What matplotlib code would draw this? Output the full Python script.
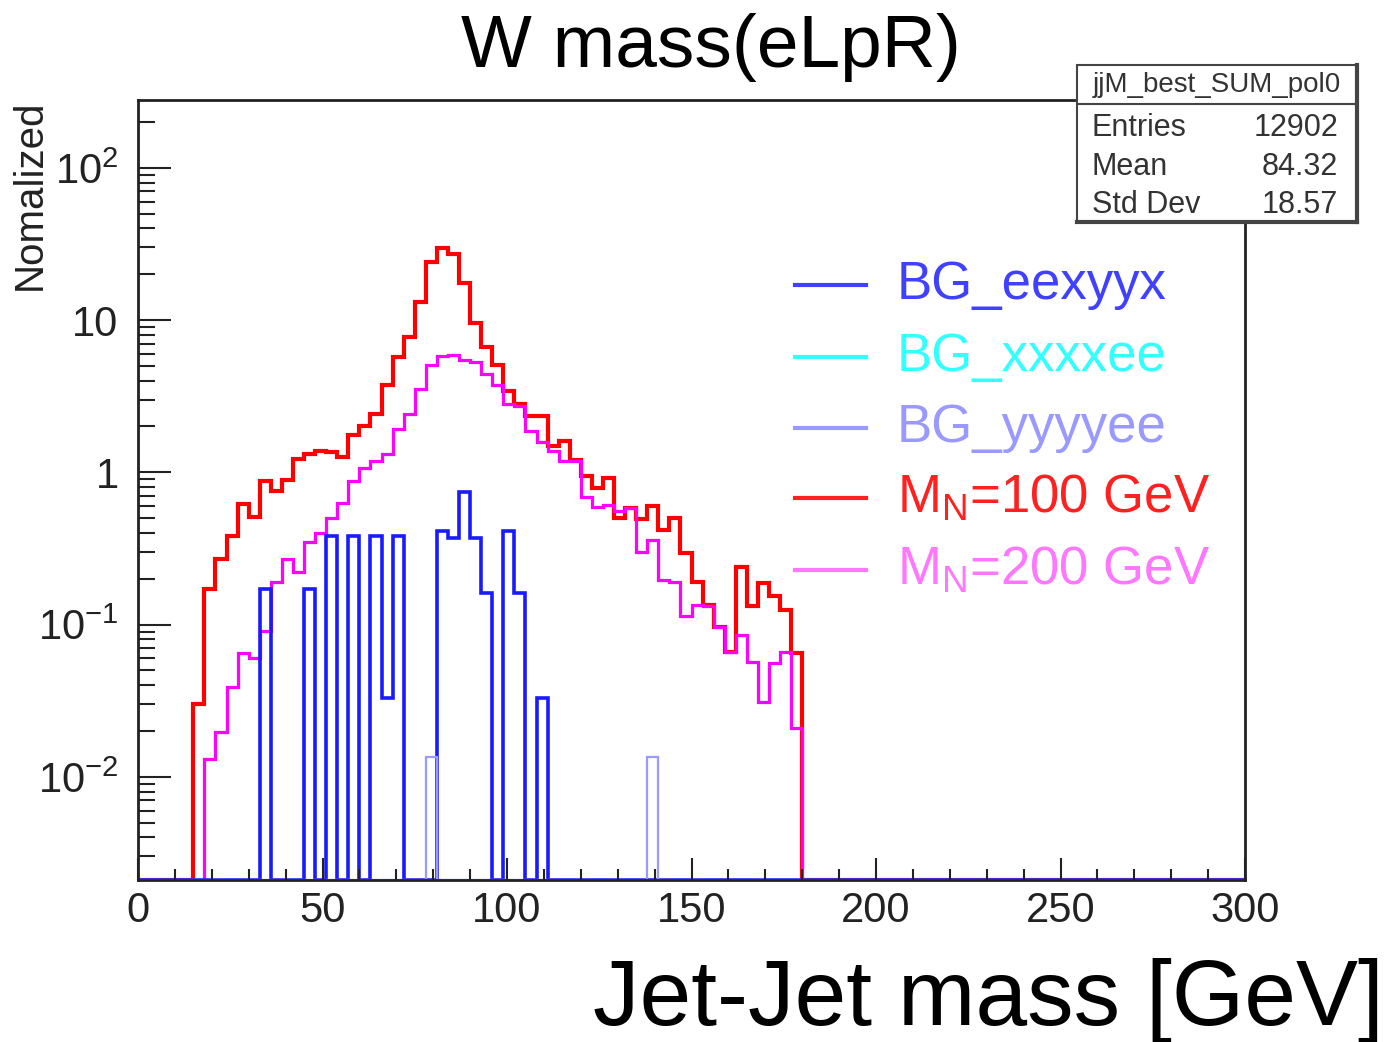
import numpy as np
import matplotlib.pyplot as plt
from matplotlib.lines import Line2D
from matplotlib.patches import Rectangle
from matplotlib.ticker import LogLocator, NullFormatter, MultipleLocator

plt.rcParams['font.family'] = ['Liberation Sans', 'DejaVu Sans']
plt.rcParams['mathtext.fontset'] = 'custom'
plt.rcParams['mathtext.rm'] = 'Liberation Sans'
plt.rcParams['mathtext.it'] = 'Liberation Sans:italic'

# 100 bins of 3 GeV from 0 to 300
bin_edges = np.arange(0, 301, 3)

# M_N = 100 GeV, first filled bin starts at 15 GeV
mn100_start = 15
mn100_vals = [0.030, 0.17, 0.27, 0.38, 0.62, 0.51, 0.88, 0.75, 0.89, 1.23,
              1.31, 1.39, 1.35, 1.27, 1.77, 2.02, 2.43, 3.76, 5.7, 7.8,
              13.1, 24.0, 29.7, 27.3, 17.4, 9.6, 6.7, 5.1, 3.4, 2.82,
              2.33, 2.33, 1.49, 1.61, 1.2, 0.95, 0.79, 0.92, 0.50, 0.58,
              0.49, 0.60, 0.42, 0.50, 0.295, 0.19, 0.135, 0.097, 0.066, 0.24,
              0.132, 0.187, 0.153, 0.125, 0.065]

# M_N = 200 GeV, first filled bin starts at 18 GeV
mn200_start = 18
mn200_vals = [0.013, 0.0198, 0.039, 0.065, 0.06, 0.091, 0.19, 0.27, 0.22, 0.35,
              0.40, 0.50, 0.63, 0.88, 1.07, 1.19, 1.31, 1.92, 2.4, 3.5,
              5.1, 5.8, 5.9, 5.5, 5.3, 4.4, 3.76, 2.82, 2.73, 1.86,
              1.58, 1.39, 1.19, 1.19, 0.69, 0.59, 0.61, 0.56, 0.58, 0.30,
              0.36, 0.197, 0.19, 0.113, 0.135, 0.132, 0.097, 0.066, 0.086, 0.057,
              0.031, 0.056, 0.066, 0.021]

# BG_eexyyx, first bin at 33 GeV
eexyyx_start = 33
eexyyx_vals = [0.17, 0, 0, 0, 0.17, 0, 0.38, 0, 0.38, 0,
               0.38, 0.033, 0.38, 0, 0, 0, 0.41, 0.37, 0.74, 0.37,
               0.16, 0, 0.41, 0.16, 0, 0.033]

# BG_yyyyee: two isolated bins
yyyyee_bins = [78, 138]
yyyyee_vals = [0.0135, 0.0135]

# BG_xxxxee: empty in this range
xxxxee_bins = []
xxxxee_vals = []

ymin, ymax = 0.0021, 279


def full_hist(starts, vals):
    h = np.zeros(len(bin_edges) - 1)
    for s, v in zip(starts, vals):
        h[int(s // 3)] = v
    return h


def from_start(start, vals):
    return full_hist([start + 3 * i for i in range(len(vals))], vals)


hists = [
    ('M$_{\\mathregular{N}}$=100 GeV', from_start(mn100_start, mn100_vals), '#ff0000', 3.0),
    ('M$_{\\mathregular{N}}$=200 GeV', from_start(mn200_start, mn200_vals), '#ff00ff', 2.3),
    ('BG_eexyyx', from_start(eexyyx_start, eexyyx_vals), '#1a1aff', 2.6),
    ('BG_xxxxee', full_hist(xxxxee_bins, xxxxee_vals), '#00ffff', 1.5),
    ('BG_yyyyee', full_hist(yyyyee_bins, yyyyee_vals), '#9999ff', 1.6),
]

W, H = 1396, 1042
fig = plt.figure(figsize=(W / 100, H / 100), dpi=100)
ax = fig.add_axes([138 / W, 1 - 880 / H, (1245 - 138) / W, (880 - 100) / H])

for name, h, col, lw in hists:
    ax.stairs(np.maximum(h, ymin), bin_edges, baseline=ymin, color=col, lw=lw)

ax.set_yscale('log')
ax.set_xlim(0, 300)
ax.set_ylim(ymin, ymax)

ax.set_xticks(np.arange(0, 301, 50))
ax.xaxis.set_minor_locator(MultipleLocator(10))
ax.set_yticks([0.01, 0.1, 1, 10, 100])
ax.set_yticklabels(['$10^{-2}$', '$10^{-1}$', '1', '10', '$10^{2}$'])
ax.yaxis.set_minor_locator(LogLocator(base=10, subs=np.arange(2, 10)))
ax.yaxis.set_minor_formatter(NullFormatter())

ax.tick_params(axis='both', which='both', direction='in', colors='#222222',
               labelcolor='#222222', width=1.5)
ax.tick_params(axis='x', which='major', length=16, pad=8, labelsize=30)
ax.tick_params(axis='x', which='minor', length=8)
ax.tick_params(axis='y', which='major', length=24, pad=14, labelsize=30)
ax.tick_params(axis='y', which='minor', length=12)
for sp in ax.spines.values():
    sp.set_linewidth(2)
    sp.set_color('#222222')

# titles
fig.text(711 / W, 1 - 47 / H, 'W mass(eLpR)', fontsize=54, ha='center', va='center')
fig.text(1384 / W, 1 - 1025 / H, 'Jet-Jet mass [GeV]', fontsize=67, ha='right',
         va='baseline')
fig.text(30 / W, 1 - 195 / H, 'Nomalized', fontsize=29, rotation=90,
         ha='center', va='center', color='#222222')

# legend
leg_rows = [
    ('BG_eexyyx', '#4040ff', 285),
    ('BG_xxxxee', '#33ffff', 357),
    ('BG_yyyyee', '#9999ff', 428),
    ('M$_{\\mathregular{N}}$=100 GeV', '#ff2020', 498),
    ('M$_{\\mathregular{N}}$=200 GeV', '#ff77ff', 570),
]
for label, col, yp in leg_rows:
    fig.add_artist(Line2D([795 / W, 866 / W], [1 - yp / H, 1 - yp / H],
                          transform=fig.transFigure, color=col, lw=3))
    fig.text(897 / W, 1 - yp / H, label, fontsize=38, color=col,
             ha='left', va='center')

# stats box
bx0, by0, bx1, by1 = 1077, 65, 1357, 222
fig.add_artist(Rectangle((bx0 / W, 1 - by1 / H), (bx1 - bx0) / W, (by1 - by0) / H,
                         transform=fig.transFigure, fc='white', ec='#444444',
                         lw=1.5, zorder=10))
fig.add_artist(Line2D([bx0 / W, bx1 / W], [1 - by1 / H, 1 - by1 / H],
                      transform=fig.transFigure, color='#444444', lw=3, zorder=11))
fig.add_artist(Line2D([bx1 / W, bx1 / W], [1 - by1 / H, 1 - by0 / H],
                      transform=fig.transFigure, color='#444444', lw=3, zorder=11))
fig.add_artist(Line2D([bx0 / W, bx1 / W], [1 - 104 / H, 1 - 104 / H],
                      transform=fig.transFigure, color='#444444', lw=1.5, zorder=11))
fig.text((bx0 + bx1) / 2 / W, 1 - 85 / H, 'jjM_best_SUM_pol0', fontsize=20,
         ha='center', va='center', color='#333333', zorder=12)
stats = [('Entries', '12902', 128), ('Mean', '84.32', 167), ('Std Dev', '18.57', 205)]
for k, v, yp in stats:
    fig.text(1092 / W, 1 - yp / H, k, fontsize=22, ha='left', va='center',
             color='#333333', zorder=12)
    fig.text(1338 / W, 1 - yp / H, v, fontsize=22, ha='right', va='center',
             color='#333333', zorder=12)

fig.savefig('out.png', dpi=100)
